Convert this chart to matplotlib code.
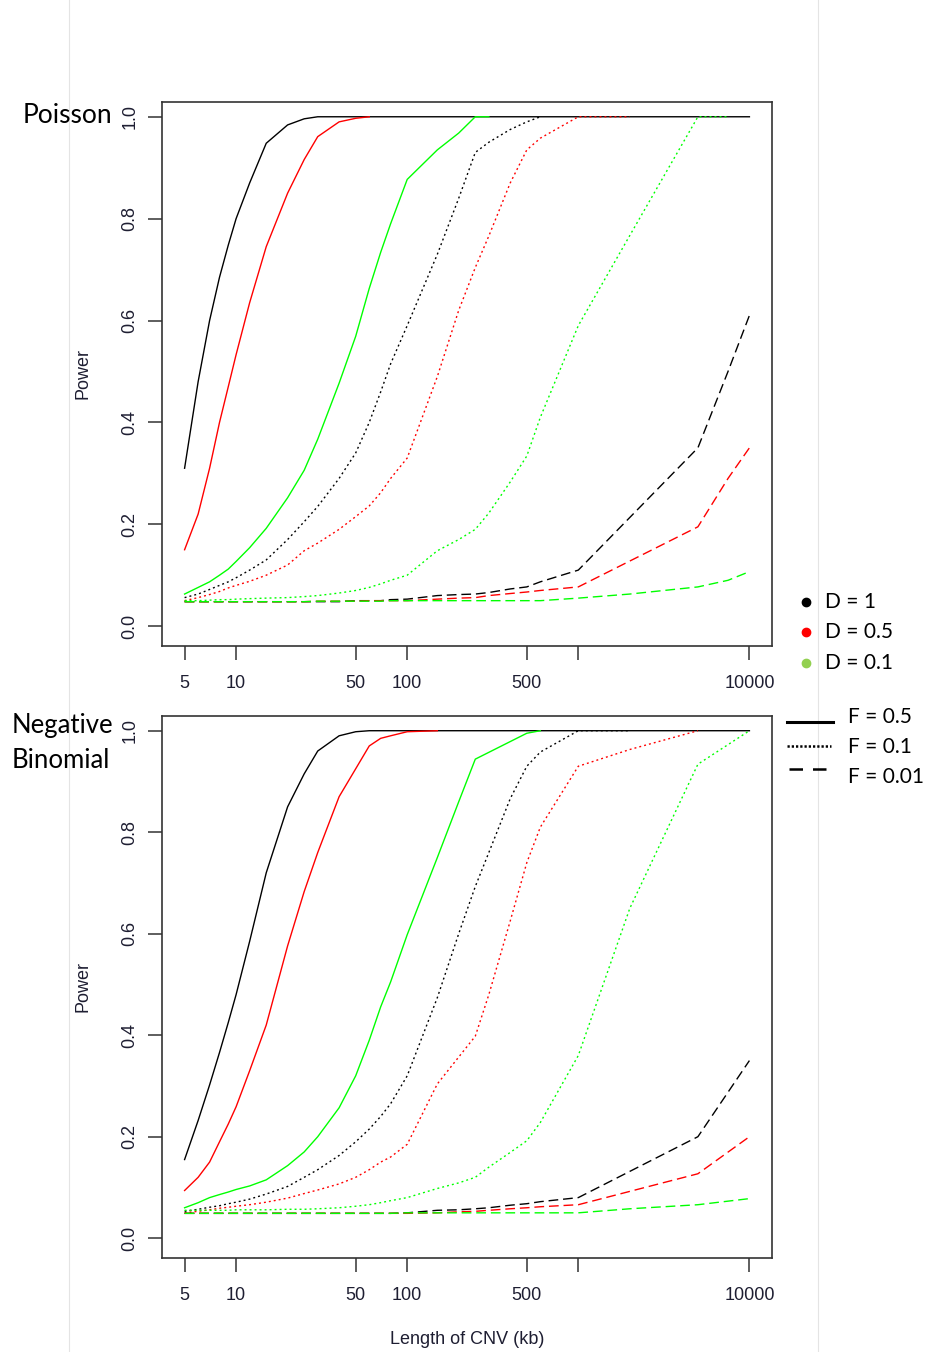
import numpy as np
import matplotlib
matplotlib.use("Agg")
import matplotlib.pyplot as plt
from matplotlib.lines import Line2D

plt.rcParams['font.family'] = ['Liberation Sans', 'DejaVu Sans']

# CNV length (kb) at which power was evaluated
lengths = [5, 6, 7, 8, 9, 10, 12, 15, 20, 25, 30, 40, 50, 60, 70, 80, 100,
           150, 200, 250, 300, 400, 500, 600, 1000, 2000, 5000, 7500, 10000]
nan = np.nan

# ---- Poisson ----
pois_f05_d1 = [0.31, 0.48, 0.60, 0.685, 0.748, 0.80, 0.87, 0.948, 0.984, 0.996, 1.0, 1.0, 1.0, 1.0, 1.0, 1.0, 1.0,
               1.0, 1.0, 1.0, 1.0, 1.0, 1.0, 1.0, 1.0, 1.0, 1.0, 1.0, 1.0]
pois_f05_d05 = [0.15, 0.22, 0.31, 0.40, 0.47, 0.533, 0.635, 0.745, 0.85, 0.916, 0.961, 0.99, 0.997, 1.0, nan, nan, nan,
                nan, nan, nan, nan, nan, nan, nan, nan, nan, nan, nan, nan]
pois_f05_d01 = [0.063, 0.076, 0.087, 0.10, 0.112, 0.127, 0.154, 0.192, 0.252, 0.306, 0.367, 0.477, 0.569, 0.663, 0.734, 0.79, 0.877,
                0.935, 0.968, 1.0, 1.0, nan, nan, nan, nan, nan, nan, nan, nan]
pois_f01_d1 = [0.056, 0.063, 0.072, 0.08, 0.087, 0.095, 0.11, 0.13, 0.17, 0.205, 0.235, 0.29, 0.34, 0.40, 0.46, 0.515, 0.59,
               0.73, 0.84, 0.93, 0.95, 0.975, 0.99, 1.0, nan, nan, nan, nan, nan]
pois_f01_d05 = [0.05, 0.056, 0.062, 0.068, 0.075, 0.08, 0.088, 0.10, 0.12, 0.148, 0.163, 0.19, 0.215, 0.236, 0.262, 0.29, 0.33,
                0.49, 0.62, 0.704, 0.766, 0.87, 0.935, 0.958, 1.0, 1.0, nan, nan, nan]
pois_f01_d01 = [0.05, 0.05, 0.051, 0.052, 0.052, 0.053, 0.054, 0.055, 0.056, 0.058, 0.06, 0.065, 0.07, 0.076, 0.083, 0.09, 0.10,
                0.148, 0.17, 0.19, 0.222, 0.283, 0.334, 0.41, 0.59, 0.767, 1.0, 1.0, nan]
pois_f001_d1 = [0.048, 0.048, 0.048, 0.048, 0.048, 0.048, 0.048, 0.048, 0.048, 0.048, 0.048, 0.048, 0.05, 0.05, 0.05, 0.052, 0.053,
                0.06, 0.062, 0.063, 0.066, 0.073, 0.077, 0.087, 0.11, nan, 0.35, 0.50, 0.61]
pois_f001_d05 = [0.048, 0.048, 0.048, 0.048, 0.048, 0.048, 0.048, 0.048, 0.048, 0.048, 0.049, 0.049, 0.049, 0.05, 0.05, 0.05, 0.05,
                 0.053, 0.055, 0.056, 0.06, 0.064, 0.067, 0.07, 0.077, nan, 0.195, 0.29, 0.35]
pois_f001_d01 = [0.048, 0.048, 0.048, 0.048, 0.048, 0.048, 0.048, 0.048, 0.048, 0.048, 0.049, 0.049, 0.049, 0.049, 0.049, 0.05, 0.05,
                 0.05, 0.05, 0.05, 0.05, 0.05, 0.05, 0.05, 0.055, 0.063, 0.077, 0.09, 0.107]

# ---- Negative binomial ----
nb_f05_d1 = [0.155, 0.232, 0.302, 0.366, 0.425, 0.48, 0.585, 0.72, 0.85, 0.915, 0.96, 0.99, 0.998, 1.0, 1.0, 1.0, 1.0,
             1.0, 1.0, 1.0, 1.0, 1.0, 1.0, 1.0, 1.0, 1.0, 1.0, 1.0, 1.0]
nb_f05_d05 = [0.094, 0.12, 0.15, 0.19, 0.225, 0.259, 0.33, 0.42, 0.576, 0.683, 0.76, 0.87, 0.925, 0.97, 0.985, 0.99, 0.998,
              1.0, nan, nan, nan, nan, nan, nan, nan, nan, nan, nan, nan]
nb_f05_d01 = [0.06, 0.07, 0.08, 0.086, 0.091, 0.096, 0.103, 0.115, 0.143, 0.17, 0.20, 0.257, 0.32, 0.39, 0.456, 0.505, 0.598,
              0.75, 0.86, 0.944, nan, nan, 0.995, 1.0, nan, nan, nan, nan, nan]
nb_f01_d1 = [0.053, 0.057, 0.061, 0.064, 0.068, 0.071, 0.077, 0.087, 0.102, 0.12, 0.135, 0.163, 0.19, 0.215, 0.24, 0.265, 0.32,
             0.474, 0.60, 0.693, 0.76, 0.866, 0.93, 0.958, 1.0, 1.0, nan, nan, nan]
nb_f01_d05 = [0.05, 0.053, 0.056, 0.059, 0.061, 0.063, 0.066, 0.071, 0.079, 0.088, 0.095, 0.107, 0.12, 0.135, 0.15, 0.16, 0.185,
              0.304, 0.357, 0.398, 0.48, 0.625, 0.74, 0.81, 0.93, 0.963, 1.0, nan, nan]
nb_f01_d01 = [0.055, 0.055, 0.055, 0.055, 0.055, 0.056, 0.056, 0.056, 0.057, 0.057, 0.058, 0.06, 0.063, 0.066, 0.07, 0.074, 0.08,
              0.098, 0.109, 0.12, 0.14, 0.169, 0.192, 0.228, 0.36, 0.65, 0.934, nan, 1.0]
nb_f001_d1 = [0.049, 0.049, 0.049, 0.049, 0.049, 0.049, 0.049, 0.049, 0.049, 0.049, 0.049, 0.049, 0.049, 0.049, 0.049, 0.049, 0.05,
              0.055, 0.056, 0.058, 0.06, 0.065, 0.068, 0.072, 0.08, nan, 0.20, nan, 0.35]
nb_f001_d05 = [0.049, 0.049, 0.049, 0.049, 0.049, 0.049, 0.049, 0.049, 0.049, 0.049, 0.049, 0.049, 0.049, 0.049, 0.049, 0.049, 0.049,
               0.05, 0.052, 0.053, 0.055, 0.058, 0.06, 0.062, 0.066, nan, 0.127, nan, 0.20]
nb_f001_d01 = [0.049, 0.049, 0.049, 0.049, 0.049, 0.049, 0.049, 0.049, 0.049, 0.049, 0.049, 0.049, 0.049, 0.049, 0.049, 0.049, 0.05,
               0.05, 0.05, 0.05, 0.05, 0.05, 0.05, 0.05, 0.05, 0.058, 0.066, nan, 0.078]

xticks = [5, 10, 50, 100, 500, 1000, 10000]
xtick_labels = ['5', '10', '50', '100', '500', '', '10000']
yticks = [0.0, 0.2, 0.4, 0.6, 0.8, 1.0]

d_colors = {'1': 'black', '0.5': '#ff0000', '0.1': '#00ff00'}
f_dashes = {'0.5': None, '0.1': (1.4, 2.2), '0.01': (7, 3.5)}

panels = {
    'pois': [('0.5', '1', pois_f05_d1), ('0.5', '0.5', pois_f05_d05), ('0.5', '0.1', pois_f05_d01),
             ('0.1', '1', pois_f01_d1), ('0.1', '0.5', pois_f01_d05), ('0.1', '0.1', pois_f01_d01),
             ('0.01', '1', pois_f001_d1), ('0.01', '0.5', pois_f001_d05), ('0.01', '0.1', pois_f001_d01)],
    'nb': [('0.5', '1', nb_f05_d1), ('0.5', '0.5', nb_f05_d05), ('0.5', '0.1', nb_f05_d01),
           ('0.1', '1', nb_f01_d1), ('0.1', '0.5', nb_f01_d05), ('0.1', '0.1', nb_f01_d01),
           ('0.01', '1', nb_f001_d1), ('0.01', '0.5', nb_f001_d05), ('0.01', '0.1', nb_f001_d01)],
}

W, H = 929, 1352


def fx(x):
    return x / W


def fy(y):
    return 1 - y / H


fig = plt.figure(figsize=(W / 100, H / 100), dpi=100)

# faint slide border lines
for xb in (69, 818):
    fig.add_artist(Line2D([fx(xb), fx(xb)], [0, 1], color='#e4e4e4', lw=0.8))

ax_top = fig.add_axes([fx(162), fy(646), 610 / W, 544 / H])
ax_bot = fig.add_axes([fx(162), fy(1258), 610 / W, 542 / H])

x = np.array(lengths, dtype=float)
span = np.log10(10000 / 5)
tick_col = '#1e1e32'

for ax, key in ((ax_top, 'pois'), (ax_bot, 'nb')):
    for f, d, vals in panels[key]:
        y = np.array(vals, dtype=float)
        m = ~np.isnan(y)
        line, = ax.plot(x[m], y[m], color=d_colors[d], lw=1.0)
        if f_dashes[f] is not None:
            line.set_dashes(f_dashes[f])
    ax.set_xscale('log')
    ax.set_xlim(10 ** (np.log10(5) - 0.04 * span), 10 ** (4 + 0.04 * span))
    ax.set_ylim(-0.039, 1.029)
    ax.set_xticks(xticks)
    ax.set_xticklabels(xtick_labels)
    ax.xaxis.set_minor_locator(matplotlib.ticker.NullLocator())
    ax.set_yticks(yticks)
    ax.set_yticklabels(['0.0', '0.2', '0.4', '0.6', '0.8', '1.0'], rotation=90, va='center')
    ax.tick_params(axis='both', length=10, width=1.1, color='#333333', labelsize=13,
                   labelcolor=tick_col)
    ax.tick_params(axis='x', pad=11)
    ax.tick_params(axis='y', pad=7)
    for s in ax.spines.values():
        s.set_linewidth(1.2)
        s.set_color('#333333')
    ax.set_ylabel('Power', fontsize=13, color=tick_col)
    ax.yaxis.set_label_coords(-0.116, 0.5)

ax_bot.set_xlabel('Length of CNV (kb)', fontsize=13, color=tick_col)
ax_bot.xaxis.set_label_coords(0.5, -0.134)

# overlay labels (slide text)
ov = ['Lato', 'DejaVu Sans']
fig.text(fx(23), fy(123), 'Poisson', family=ov, fontsize=19, va='baseline', ha='left')
fig.text(fx(12), fy(733), 'Negative', family=ov, fontsize=18.5, va='baseline', ha='left')
fig.text(fx(12), fy(768), 'Binomial', family=ov, fontsize=18.5, va='baseline', ha='left')

# D legend (colour)
for yy, lab, col in ((602, 'D = 1', 'black'), (632, 'D = 0.5', '#ff0000'), (663, 'D = 0.1', '#92d050')):
    fig.add_artist(Line2D([fx(806)], [fy(yy)], marker='o', ms=6, color=col, mec=col, lw=0))
    fig.text(fx(825), fy(yy + 6), lab, family=ov, fontsize=15, va='baseline', ha='left')

# F legend (line type)
leg = [(722, 723, 'F = 0.5', None, 2.2, (787, 833)),
       (746, 753, 'F = 0.1', (0.9, 0.8), 1.8, (787, 831)),
       (769, 783, 'F = 0.01', (5.4, 4.0), 1.8, (789, 836))]
for yy, base, lab, dsh, lw, (x0, x1) in leg:
    ln = Line2D([fx(x0), fx(x1)], [fy(yy), fy(yy)], color='black', lw=lw)
    if dsh is not None:
        ln.set_dashes(dsh)
    fig.add_artist(ln)
    fig.text(fx(848), fy(base), lab, family=ov, fontsize=15, va='baseline', ha='left')

fig.savefig('out.png', dpi=100)
